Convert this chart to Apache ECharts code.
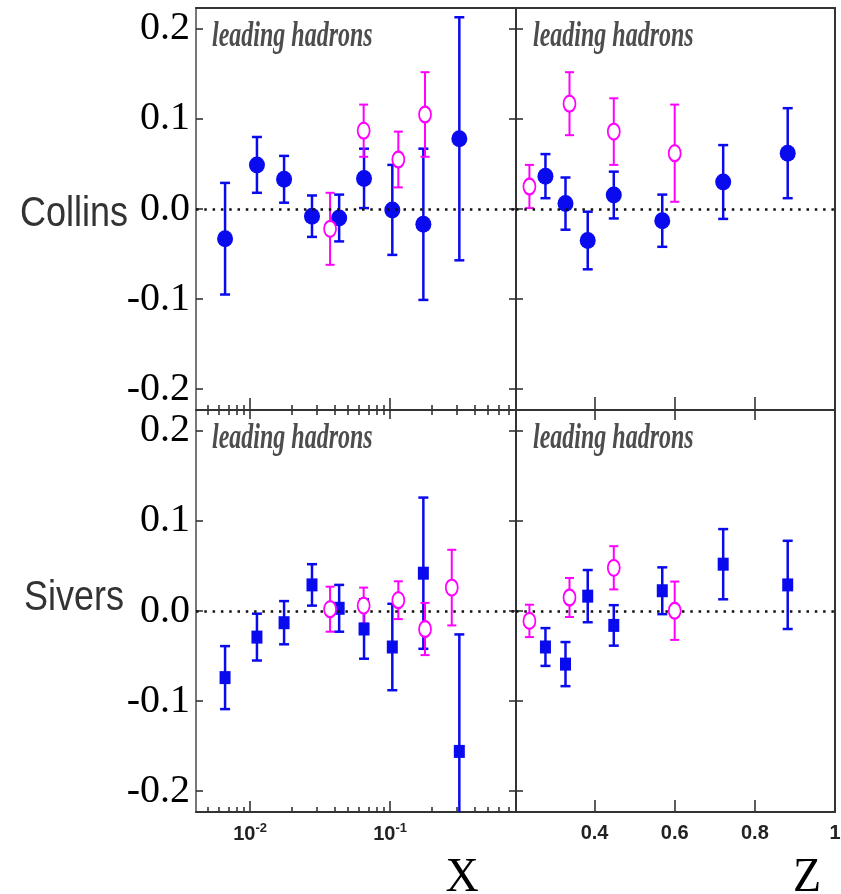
<!DOCTYPE html>
<html><head><meta charset="utf-8">
<script src="https://cdn.jsdelivr.net/npm/echarts@6/dist/echarts.min.js"></script>
<style>html,body{margin:0;padding:0;background:#fff}#c{width:841px;height:894px}</style>
</head><body><div id="c"></div>
<script>
// ---------------- data ----------------
const xBinsBlue = [0.00663, 0.0112, 0.0175, 0.0277, 0.0433, 0.0652, 0.1038, 0.173, 0.3126];
const xBinsMag  = [0.0373, 0.0648, 0.1146, 0.1778, 0.276];
const zBinsBlue = [0.2775, 0.3275, 0.383, 0.448, 0.569, 0.721, 0.882];
const zBinsMag  = [0.2375, 0.3375, 0.448, 0.600];

const collinsXBlue    = [-0.033, 0.049, 0.033, -0.008, -0.010, 0.034, -0.001, -0.017, 0.078];
const collinsXBlueErr = [0.062, 0.031, 0.026, 0.023, 0.026, 0.033, 0.050, 0.084, 0.135];
const collinsXMag     = [-0.022, 0.087, 0.055, 0.105];
const collinsXMagErr  = [0.040, 0.029, 0.031, 0.047];
const collinsZBlue    = [0.0365, 0.006, -0.035, 0.0155, -0.013, 0.030, 0.062];
const collinsZBlueErr = [0.0245, 0.029, 0.032, 0.026, 0.029, 0.041, 0.050];
const collinsZMag     = [0.025, 0.117, 0.086, 0.062];
const collinsZMagErr  = [0.024, 0.035, 0.037, 0.054];

const siversXBlue    = [-0.074, -0.029, -0.013, 0.029, 0.003, -0.020, -0.040, 0.042, -0.156];
const siversXBlueErr = [0.035, 0.026, 0.024, 0.023, 0.026, 0.033, 0.048, 0.084, 0.130];
const siversXMag     = [0.002, 0.006, 0.012, -0.020, 0.026];
const siversXMagErr  = [0.025, 0.020, 0.021, 0.029, 0.042];
const siversZBlue    = [-0.040, -0.059, 0.0165, -0.016, 0.0225, 0.052, 0.029];
const siversZBlueErr = [0.021, 0.0245, 0.029, 0.0225, 0.026, 0.039, 0.049];
const siversZMag     = [-0.011, 0.015, 0.048, 0.0003];
const siversZMagErr  = [0.018, 0.0217, 0.024, 0.0324];

// ticks / labels
const yTicks = [-0.2, -0.1, 0.0, 0.1, 0.2];
const xMajorTicks = [0.01, 0.1];
const xMinorTicks = [0.005, 0.006, 0.007, 0.008, 0.009,
                     0.02, 0.03, 0.04, 0.05, 0.06, 0.07, 0.08, 0.09,
                     0.2, 0.3, 0.4, 0.5, 0.6, 0.7];
const zTicks = [0.4, 0.6, 0.8];
const zLabels = [0.4, 0.6, 0.8, 1.0];
const panelTitle = 'leading hadrons';
const rowTitles = ['Collins', 'Sivers'];
const colTitles = ['X', 'Z'];

// ---------------- style ----------------
const BLUE = '#0a0aee', MAG = '#ff00ff', AX = '#333';
const X_MIN = 0.00411, X_MAX = 0.794, Z_MIN = 0.204, Z_MAX = 1.0;
const Y_MIN = -0.2233, Y_MAX = 0.2233;

const grids = [
  {left: 196, top: 8,   width: 320, height: 402},
  {left: 516, top: 8,   width: 319, height: 402},
  {left: 196, top: 410, width: 320, height: 402},
  {left: 516, top: 410, width: 319, height: 402}
].map(g => Object.assign({outerBoundsMode: 'none', containLabel: false}, g));

function baseX(type, g, pos, o) {
  const a = {
    type: type, gridIndex: g, position: pos,
    min: type === 'log' ? X_MIN : Z_MIN, max: type === 'log' ? X_MAX : Z_MAX,
    splitLine: {show: false}, minorTick: {show: false}, minorSplitLine: {show: false},
    axisLine: {show: false, onZero: false, lineStyle: {color: AX, width: 2}},
    axisTick: {show: false},
    axisLabel: {show: false}
  };
  if (type === 'log') a.logBase = 10;
  return Object.assign(a, o);
}
function ticks(vals, len, inside) {
  return {show: true, inside: inside !== false, length: len, customValues: vals,
          lineStyle: {color: AX, width: 1.6}};
}
const logLabel = {
  show: true, customValues: xMajorTicks, margin: 10,
  formatter: v => '{a|10}{b|' + Math.round(Math.log10(v)) + '}',
  rich: {
    a: {fontFamily: 'Liberation Sans', fontWeight: 'bold', fontSize: 20, color: '#222', lineHeight: 24},
    b: {fontFamily: 'Liberation Sans', fontWeight: 'bold', fontSize: 13, color: '#222', verticalAlign: 'top', lineHeight: 24}
  }
};
const zLabel = {
  show: true, customValues: zLabels, margin: 11,
  formatter: v => (Math.abs(v - 1) < 1e-9 ? '1' : v.toFixed(1)),
  fontFamily: 'Liberation Sans', fontWeight: 'bold', fontSize: 20, color: '#222'
};
const lineOn = {show: true, onZero: false, lineStyle: {color: AX, width: 2}};

const xAxes = [
  // grid 0 (Collins vs x)
  baseX('log', 0, 'bottom', {axisLine: lineOn, axisTick: ticks(xMajorTicks, 12)}),         // 0
  baseX('log', 0, 'bottom', {axisTick: ticks(xMinorTicks, 5)}),                            // 1
  baseX('log', 0, 'top', {axisLine: lineOn}),                                              // 2
  // grid 1 (Collins vs z)
  baseX('value', 1, 'bottom', {axisLine: lineOn, axisTick: ticks(zTicks, 13)}),            // 3
  baseX('value', 1, 'top', {axisLine: lineOn}),                                            // 4
  // grid 2 (Sivers vs x)
  baseX('log', 2, 'bottom', {axisLine: lineOn, axisTick: ticks(xMajorTicks, 11), axisLabel: logLabel}), // 5
  baseX('log', 2, 'bottom', {axisTick: ticks(xMinorTicks, 5)}),                            // 6
  baseX('log', 2, 'top', {axisTick: ticks(xMajorTicks, 9)}),                               // 7
  baseX('log', 2, 'top', {axisTick: ticks(xMinorTicks, 5)}),                               // 8
  // grid 3 (Sivers vs z)
  baseX('value', 3, 'bottom', {axisLine: lineOn, axisTick: ticks(zTicks, 12), axisLabel: zLabel}), // 9
  baseX('value', 3, 'top', {axisTick: ticks(zTicks, 10)})                                  // 10
];

function yAx(g, pos, showLabel, showTicks, lineColor) {
  return {
    type: 'value', gridIndex: g, position: pos, min: Y_MIN, max: Y_MAX,
    splitLine: {show: false},
    axisLine: {show: true, onZero: false, lineStyle: {color: lineColor || AX, width: 2}},
    axisTick: showTicks ? ticks(yTicks, 7) : {show: false},
    axisLabel: showLabel ? {
      show: true, customValues: yTicks, margin: 6,
      formatter: v => (Math.abs(v) < 1e-9 ? '0.0' : v.toFixed(1)),
      fontFamily: 'Liberation Serif', fontSize: 40, color: '#000'
    } : {show: false}
  };
}
const yAxes = [
  yAx(0, 'left', true, true, '#777'),  // 0
  yAx(0, 'right', false, true),        // 1
  yAx(1, 'left', false, true),         // 2
  yAx(1, 'right', false, false),       // 3
  yAx(2, 'left', true, true, '#777'),  // 4
  yAx(2, 'right', false, true),        // 5
  yAx(3, 'left', false, true),         // 6
  yAx(3, 'right', false, false)        // 7
];

function errSeries(xi, yi, xs, ys, es, color, lw, capW) {
  return {
    type: 'custom', xAxisIndex: xi, yAxisIndex: yi, silent: true, z: 2, clip: true,
    data: ys.map((v, i) => [xs[i], v, es[i]]),
    encode: {x: 0, y: 1},
    renderItem: function (params, api) {
      const x = api.value(0), y = api.value(1), e = api.value(2);
      const p1 = api.coord([x, y + e]), p2 = api.coord([x, y - e]);
      const cs = params.coordSys;
      const top = cs.y, bot = cs.y + cs.height;
      const yt = Math.max(top, p1[1]), yb = Math.min(bot, p2[1]);
      const st = {stroke: color, lineWidth: lw};
      const ch = [{type: 'line', shape: {x1: p1[0], y1: yt, x2: p1[0], y2: yb}, style: st}];
      if (p1[1] >= top) ch.push({type: 'line', shape: {x1: p1[0] - capW / 2, y1: p1[1], x2: p1[0] + capW / 2, y2: p1[1]}, style: st});
      if (p2[1] <= bot) ch.push({type: 'line', shape: {x1: p2[0] - capW / 2, y1: p2[1], x2: p2[0] + capW / 2, y2: p2[1]}, style: st});
      return {type: 'group', children: ch};
    }
  };
}
function blueMarks(xi, yi, xs, ys, symbol, size, withZero) {
  const s = {
    type: 'scatter', xAxisIndex: xi, yAxisIndex: yi, silent: true, z: 4,
    symbol: symbol, symbolSize: size, itemStyle: {color: BLUE, opacity: 1},
    data: ys.map((v, i) => [xs[i], v])
  };
  if (withZero) {
    s.markLine = {
      silent: true, symbol: ['none', 'none'], label: {show: false}, animation: false,
      lineStyle: {color: '#111', type: [2.5, 5.8], width: 2.5},
      emphasis: {disabled: true},
      data: [{yAxis: 0}]
    };
  }
  return s;
}
function magMarks(xi, yi, xs, ys) {
  return {
    type: 'scatter', xAxisIndex: xi, yAxisIndex: yi, silent: true, z: 5,
    symbol: 'emptyCircle', symbolSize: [12, 16],
    itemStyle: {color: MAG, borderColor: MAG, borderWidth: 2, opacity: 1},
    data: ys.map((v, i) => [xs[i], v])
  };
}

const series = [
  // Collins vs x
  errSeries(0, 0, xBinsBlue, collinsXBlue, collinsXBlueErr, BLUE, 2.5, 10),
  errSeries(0, 0, xBinsMag, collinsXMag, collinsXMagErr, MAG, 2, 9),
  blueMarks(0, 0, xBinsBlue, collinsXBlue, 'circle', [16, 17], true),
  magMarks(0, 0, xBinsMag, collinsXMag),
  // Collins vs z
  errSeries(3, 2, zBinsBlue, collinsZBlue, collinsZBlueErr, BLUE, 2.5, 10),
  errSeries(3, 2, zBinsMag, collinsZMag, collinsZMagErr, MAG, 2, 9),
  blueMarks(3, 2, zBinsBlue, collinsZBlue, 'circle', [16, 17], true),
  magMarks(3, 2, zBinsMag, collinsZMag),
  // Sivers vs x
  errSeries(5, 4, xBinsBlue, siversXBlue, siversXBlueErr, BLUE, 2.5, 10),
  errSeries(5, 4, xBinsMag, siversXMag, siversXMagErr, MAG, 2, 9),
  blueMarks(5, 4, xBinsBlue, siversXBlue, 'rect', [11, 13], true),
  magMarks(5, 4, xBinsMag, siversXMag),
  // Sivers vs z
  errSeries(9, 6, zBinsBlue, siversZBlue, siversZBlueErr, BLUE, 2.5, 10),
  errSeries(9, 6, zBinsMag, siversZMag, siversZMagErr, MAG, 2, 9),
  blueMarks(9, 6, zBinsBlue, siversZBlue, 'rect', [11, 13], true),
  magMarks(9, 6, zBinsMag, siversZMag)
];

function txt(x, y, text, font, fill, align, sy) {
  return {type: 'text', x: x, y: y, scaleY: sy || 1, silent: true, z: 10,
          style: {text: text, font: font, fill: fill, align: align || 'left', verticalAlign: 'middle'}};
}
const titleFont = 'italic bold 24px "Liberation Serif"';
const graphic = [
  txt(212, 37, panelTitle, titleFont, '#4d4d4d', 'left', 1.45),
  txt(533, 37, panelTitle, titleFont, '#4d4d4d', 'left', 1.45),
  txt(212, 439, panelTitle, titleFont, '#4d4d4d', 'left', 1.45),
  txt(533, 439, panelTitle, titleFont, '#4d4d4d', 'left', 1.45),
  txt(20, 214, rowTitles[0], '36px "Liberation Sans"', '#333', 'left', 1.2),
  txt(24, 598, rowTitles[1], '36px "Liberation Sans"', '#333', 'left', 1.2),
  txt(462, 878, colTitles[0], '46px "Liberation Serif"', '#000', 'center', 1.05),
  txt(807, 878, colTitles[1], '46px "Liberation Serif"', '#000', 'center', 1.05)
];

const chart = echarts.init(document.getElementById('c'), null, {renderer: 'canvas'});
chart.setOption({
  animation: false,
  backgroundColor: '#fff',
  grid: grids,
  xAxis: xAxes,
  yAxis: yAxes,
  series: series,
  graphic: graphic
});
</script></body></html>
